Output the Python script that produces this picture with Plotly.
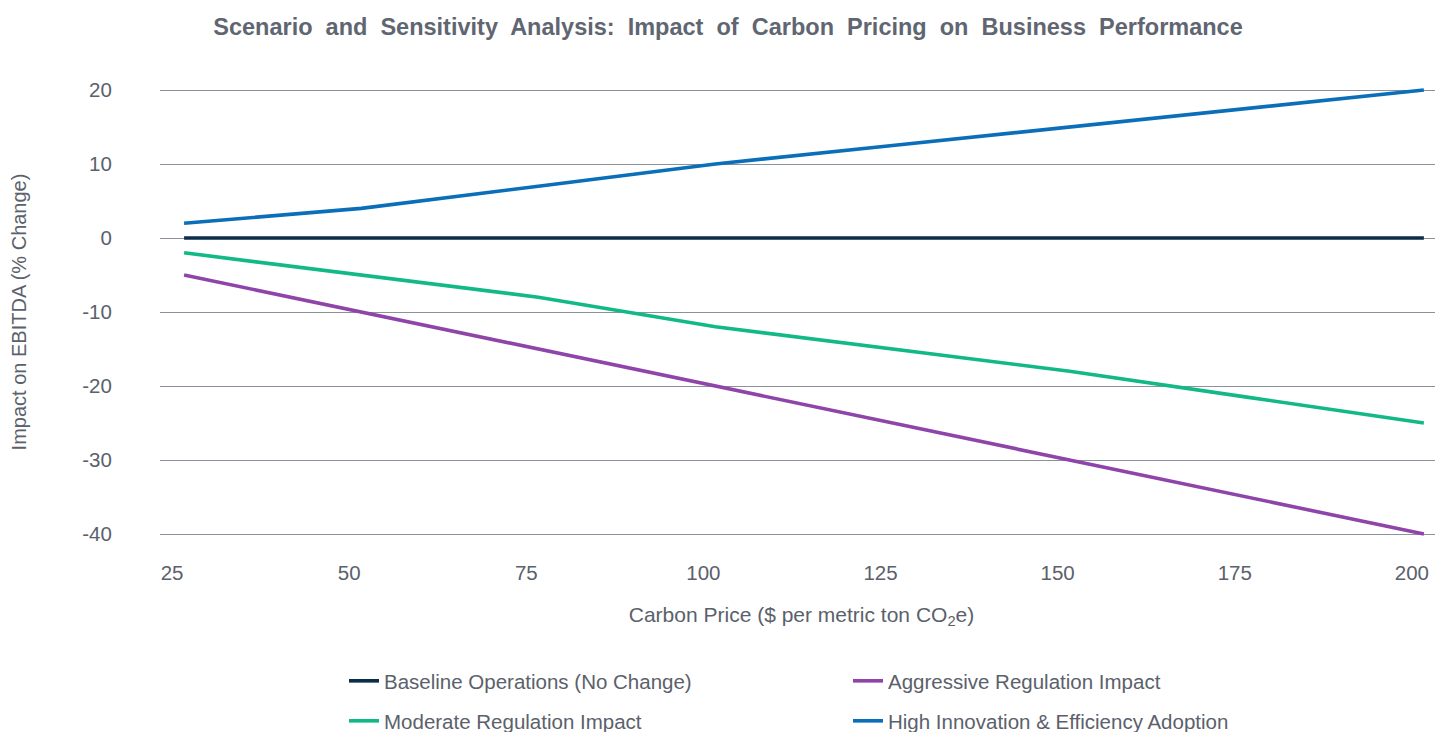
import plotly.graph_objects as go

carbon_price = [25, 50, 75, 100, 125, 150, 175, 200]
baseline = [0, 0, 0, 0, 0, 0, 0, 0]
aggressive = [-5, -10, -15, -20, -25, -30, -35, -40]
moderate = [-2, -5, -8, -12, -15, -18, -21.5, -25]
innovation = [2, 4, 7, 10, 12.5, 15, 17.5, 20]
y_ticks = [-40, -30, -20, -10, 0, 10, 20]

series = [
    ("Baseline Operations (No Change)", baseline, "#0b2d48", "legend"),
    ("Aggressive Regulation Impact", aggressive, "#8e44a8", "legend"),
    ("Moderate Regulation Impact", moderate, "#12b886", "legend2"),
    ("High Innovation & Efficiency Adoption", innovation, "#0a6fb8", "legend2"),
]

fig = go.Figure()
for name, vals, color, lg in series:
    fig.add_trace(go.Scatter(
        x=carbon_price, y=vals, name=name, mode="lines",
        line=dict(color=color, width=3.6), legend=lg,
    ))

FONT = "Liberation Sans, Arial, sans-serif"
tick_font = dict(family=FONT, size=20.5, color="#5b616b")
legend_common = dict(
    orientation="h", xref="container", yref="container", xanchor="left", yanchor="middle",
    font=dict(family=FONT, size=20.5, color="#5b616b"),
    entrywidth=459, entrywidthmode="pixels", bgcolor="rgba(0,0,0,0)",
)

fig.update_layout(
    width=1443, height=732,
    margin=dict(l=152, r=8, t=80, b=204, autoexpand=False),
    paper_bgcolor="white", plot_bgcolor="white",
    title=dict(
        text="<b>Scenario  and  Sensitivity  Analysis:  Impact  of  Carbon  Pricing  on  Business  Performance</b>",
        x=720 / 1443, xanchor="center", y=1 - 19 / 732, yanchor="middle",
        font=dict(family=FONT, size=23.5, color="#5f6671"),
    ),
    xaxis=dict(
        range=[21.6, 202.7], tickvals=carbon_price, ticktext=[str(v) for v in carbon_price],
        showgrid=False, zeroline=False, showline=False, automargin=False,
        ticks="outside", ticklen=18, tickcolor="rgba(0,0,0,0)",
        tickfont=tick_font, ticklabelshift=-12,
        title=dict(text="Carbon Price ($ per metric ton CO<sub>2</sub>e)",
                   font=dict(family=FONT, size=21, color="#5b616b"), standoff=24),
    ),
    yaxis=dict(
        range=[-40.27, 20.27], tickvals=y_ticks, ticktext=[str(v) for v in y_ticks],
        showgrid=True, gridcolor="#8c929b", gridwidth=1, automargin=False,
        zeroline=True, zerolinecolor="#8c929b", zerolinewidth=1, showline=False,
        ticks="outside", ticklen=43, tickcolor="rgba(0,0,0,0)",
        tickfont=tick_font,
        title=dict(text="Impact on EBITDA (% Change)",
                   font=dict(family=FONT, size=20, color="#5b616b"), standoff=51),
    ),
    legend=dict(x=336 / 1443, y=1 - 673 / 732, **legend_common),
    legend2=dict(x=336 / 1443, y=1 - 713 / 732, **legend_common),
)

fig.write_html("out.html")
